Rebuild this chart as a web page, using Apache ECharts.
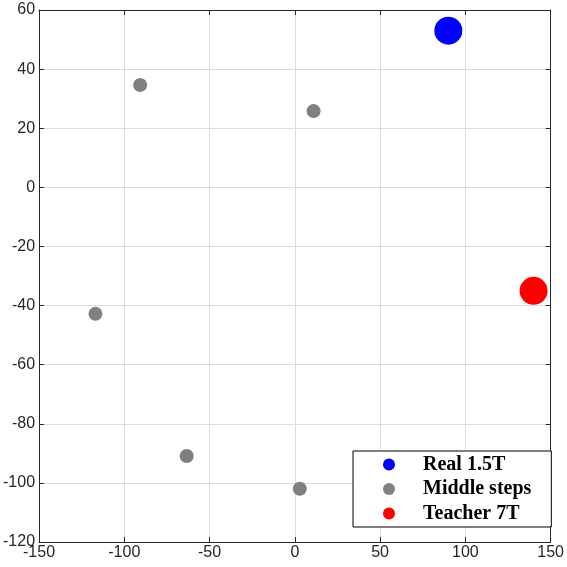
<!DOCTYPE html>
<html>
<head>
<meta charset="utf-8">
<script src="https://cdn.jsdelivr.net/npm/echarts@6/dist/echarts.min.js"></script>
<style>
  html, body { margin: 0; padding: 0; background: #fff; }
  #chart { width: 567px; height: 567px; }
</style>
</head>
<body>
<div id="chart"></div>
<script>
// data
const realPoints = [[90, 53]]
const middlePoints = [
  [-90.7, 34.6],
  [11, 25.8],
  [-116.9, -42.8],
  [-63.4, -90.9],
  [2.9, -102]
]
const teacherPoints = [[140, -35]]
const seriesNames = ['Real 1.5T', 'Middle steps', 'Teacher 7T']

const axisColor = '#262626'
const gridColor = '#dcdcdc'

const chart = echarts.init(document.getElementById('chart'))

const tickStyle = { show: true, inside: true, length: 5, lineStyle: { color: axisColor } }

chart.setOption({
  animation: false,
  grid: { left: 37, top: 10, right: 14, bottom: 25, containLabel: false },
  xAxis: [
    {
      type: 'value', min: -150, max: 150, interval: 50, position: 'bottom',
      axisLine: { show: true, onZero: false, lineStyle: { color: axisColor, width: 1 } },
      axisTick: tickStyle,
      axisLabel: { color: axisColor, fontSize: 16, fontFamily: 'Liberation Sans, Arial', margin: 3 },
      splitLine: { show: true, lineStyle: { color: gridColor } }
    },
    {
      type: 'value', min: -150, max: 150, interval: 50, position: 'top',
      axisLine: { show: true, onZero: false, lineStyle: { color: axisColor, width: 1 } },
      axisTick: tickStyle,
      axisLabel: { show: false },
      splitLine: { show: false }
    }
  ],
  yAxis: [
    {
      type: 'value', min: -120, max: 60, interval: 20, position: 'left',
      axisLine: { show: true, onZero: false, lineStyle: { color: axisColor, width: 1 } },
      axisTick: tickStyle,
      axisLabel: { color: axisColor, fontSize: 16, fontFamily: 'Liberation Sans, Arial', margin: 4 },
      splitLine: { show: true, lineStyle: { color: gridColor } }
    },
    {
      type: 'value', min: -120, max: 60, interval: 20, position: 'right',
      axisLine: { show: true, onZero: false, lineStyle: { color: axisColor, width: 1 } },
      axisTick: tickStyle,
      axisLabel: { show: false },
      splitLine: { show: false }
    }
  ],
  legend: {
    orient: 'vertical',
    left: 353,
    top: 451,
    padding: [3, 20, 3, 30],
    itemGap: 3.5,
    itemWidth: 12,
    itemHeight: 12,
    icon: 'circle',
    borderColor: '#000',
    borderWidth: 1,
    backgroundColor: '#fff',
    data: seriesNames,
    textStyle: {
      fontFamily: 'Liberation Serif, Times New Roman',
      fontWeight: 'bold',
      fontSize: 20,
      color: '#000',
      lineHeight: 21,
      padding: [0, 0, 0, 23]
    }
  },
  series: [
    {
      name: seriesNames[0], type: 'scatter', data: realPoints,
      symbolSize: 28, itemStyle: { color: '#0000ff', opacity: 1 }
    },
    {
      name: seriesNames[1], type: 'scatter', data: middlePoints,
      symbolSize: 14, itemStyle: { color: '#808080', opacity: 1 }
    },
    {
      name: seriesNames[2], type: 'scatter', data: teacherPoints,
      symbolSize: 28, itemStyle: { color: '#ff0000', opacity: 1 }
    }
  ]
})
</script>
</body>
</html>
